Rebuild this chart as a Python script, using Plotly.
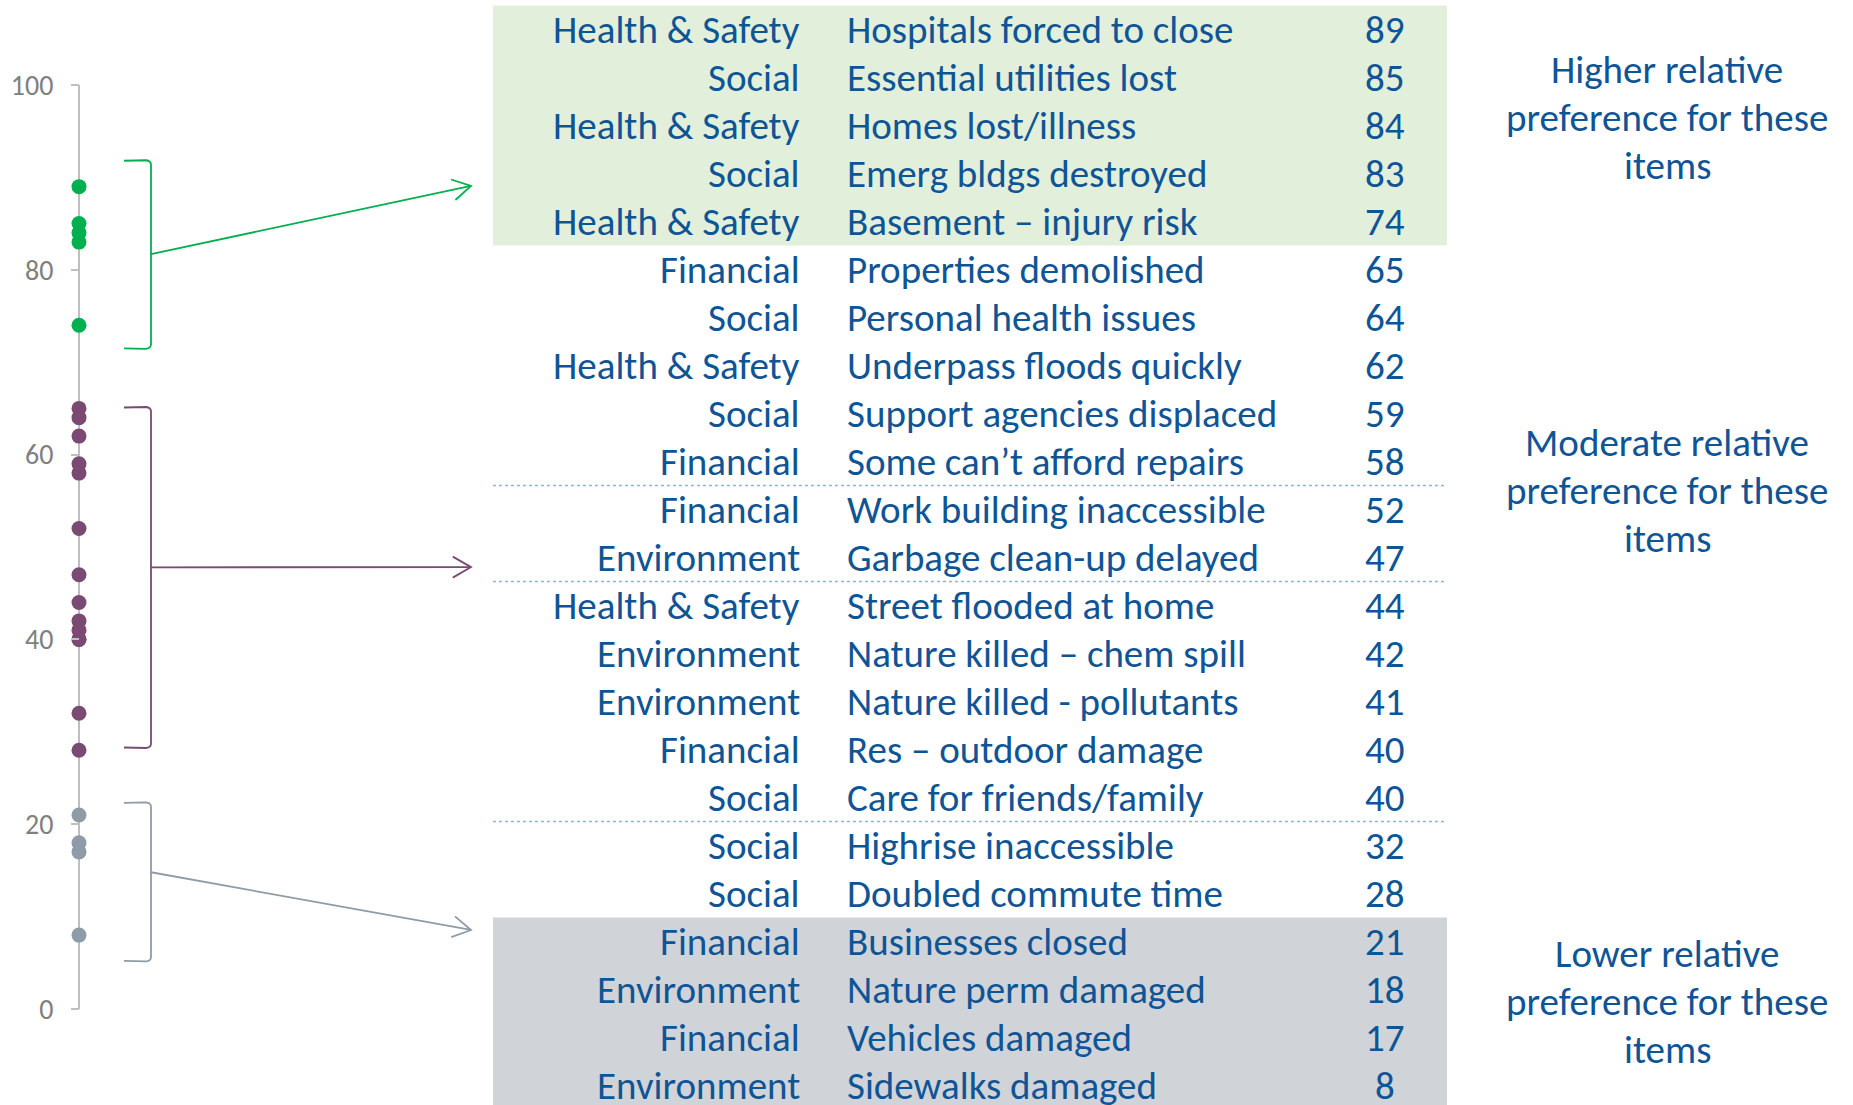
import math
import plotly.graph_objects as go

# ---------------- data ----------------
categories = ["Health & Safety", "Social", "Health & Safety", "Social", "Health & Safety",
              "Financial", "Social", "Health & Safety", "Social", "Financial",
              "Financial", "Environment", "Health & Safety", "Environment", "Environment",
              "Financial", "Social", "Social", "Social", "Financial",
              "Environment", "Financial", "Environment"]
items = ["Hospitals forced to close", "Essential utilities lost", "Homes lost/illness",
         "Emerg bldgs destroyed", "Basement \u2013 injury risk", "Properties demolished",
         "Personal health issues", "Underpass floods quickly", "Support agencies displaced",
         "Some can\u2019t afford repairs", "Work building inaccessible", "Garbage clean-up delayed",
         "Street flooded at home", "Nature killed \u2013 chem spill", "Nature killed - pollutants",
         "Res \u2013 outdoor damage", "Care for friends/family", "Highrise inaccessible",
         "Doubled commute time", "Businesses closed", "Nature perm damaged",
         "Vehicles damaged", "Sidewalks damaged"]
scores = [89, 85, 84, 83, 74, 65, 64, 62, 59, 58, 52, 47, 44, 42, 41, 40, 40, 32, 28, 21, 18, 17, 8]
groups = ["high"] * 5 + ["moderate"] * 14 + ["low"] * 4
group_order = ["high", "moderate", "low"]
group_notes = {
    "high": ["Higher relative", "preference for these", "items"],
    "moderate": ["Moderate relative", "preference for these", "items"],
    "low": ["Lower relative", "preference for these", "items"],
}
divider_after_rows = [9, 11, 16]
tick_vals = [0, 20, 40, 60, 80, 100]

# ---------------- styling / layout constants ----------------
W, H = 1853, 1105
FONT = "Carlito, Calibri, Lato, sans-serif"
TXT = "#0F5596"
group_colors = {"high": "#00B050", "moderate": "#7B4A72", "low": "#8E9CA7"}
group_bg = {"high": "#E2EFDA", "low": "#D0D4D9"}

AX_X = 79
V0_PX, V100_PX = 1009, 85
K = (V0_PX - V100_PX) / 100.0
ROW0_PX, ROW_H = 29.5, 48.0
TABLE_X0, TABLE_X1 = 493, 1447
CAT_X, ITEM_X, VAL_X = 802, 845, 1385
NOTE_X = 1667
BR_X, BR_LEFT = 151, 124
ARROW_END_X = 471
bracket_spans = {"high": (91.8, 71.5), "moderate": (65.1, 28.3), "low": (22.3, 5.2)}
arrow_from_val = {"high": 81.7, "moderate": 47.8, "low": 14.8}
arrow_to_row = {"high": 3.26, "moderate": 11.2, "low": 18.76}
note_center_row = {"high": 1.83, "moderate": 9.6, "low": 20.24}
NOTE_LINE = 48
TABLE_FONT_SIZE = 39
NOTE_FONT_SIZE = 39
TICK_FONT_SIZE = 28


def v2px(v):
    return V0_PX - K * v


def row2px(r):
    return ROW0_PX + ROW_H * r


fig = go.Figure()

# dots along the score axis
fig.add_trace(go.Scatter(
    x=[AX_X] * len(scores), y=scores, mode="markers",
    marker=dict(size=15, color=[group_colors[g] for g in groups], line=dict(width=0)),
    hoverinfo="y", showlegend=False, xaxis="x", yaxis="y"))

shapes = []
# axis line 0..100
shapes.append(dict(type="line", xref="x", yref="y", x0=AX_X, x1=AX_X,
                   y0=min(tick_vals), y1=max(tick_vals), layer="below",
                   line=dict(color="#BFBFBF", width=2)))

# table background bands
for g in ["high", "low"]:
    rows = [i for i, gg in enumerate(groups) if gg == g]
    shapes.append(dict(type="rect", xref="x", yref="y2", x0=TABLE_X0, x1=TABLE_X1,
                       y0=min(rows) - 0.5, y1=max(rows) + 0.5, layer="below",
                       fillcolor=group_bg[g], line=dict(width=0)))
# dotted dividers
for r in divider_after_rows:
    shapes.append(dict(type="line", xref="x", yref="y2", x0=TABLE_X0, x1=TABLE_X1,
                       y0=r + 0.5, y1=r + 0.5, layer="below",
                       line=dict(color="#8FB4D6", width=1.5, dash="dot")))

# brackets + arrows (pixel space on y3)
for g in group_order:
    c = group_colors[g]
    top, bot = v2px(bracket_spans[g][0]), v2px(bracket_spans[g][1])
    path = (f"M {BR_LEFT},{top} L {BR_X-5},{top-0.5} Q {BR_X},{top} {BR_X},{top+4} "
            f"L {BR_X},{bot-4} Q {BR_X},{bot} {BR_X-5},{bot+0.5} L {BR_LEFT},{bot}")
    shapes.append(dict(type="path", xref="x", yref="y3", path=path,
                       line=dict(color=c, width=1.8)))
    sx, sy = BR_X, v2px(arrow_from_val[g])
    ex, ey = ARROW_END_X, row2px(arrow_to_row[g])
    shapes.append(dict(type="line", xref="x", yref="y3", x0=sx, y0=sy, x1=ex, y1=ey,
                       line=dict(color=c, width=1.8)))
    ang = math.atan2(ey - sy, ex - sx)
    L = 21
    pts = []
    for d in (math.radians(30), -math.radians(30)):
        pts.append((ex - L * math.cos(ang + d), ey - L * math.sin(ang + d)))
    apath = f"M {pts[0][0]},{pts[0][1]} L {ex},{ey} L {pts[1][0]},{pts[1][1]}"
    shapes.append(dict(type="path", xref="x", yref="y3", path=apath,
                       line=dict(color=c, width=1.8)))

annotations = []
tf = dict(family=FONT, size=TABLE_FONT_SIZE, color=TXT)
for i, (cat, it, sc) in enumerate(zip(categories, items, scores)):
    annotations.append(dict(x=CAT_X, y=i, xref="x", yref="y2", text=cat, showarrow=False,
                            xanchor="right", yanchor="middle", font=tf))
    annotations.append(dict(x=ITEM_X, y=i, xref="x", yref="y2", text=it, showarrow=False,
                            xanchor="left", yanchor="middle", font=tf))
    annotations.append(dict(x=VAL_X, y=i, xref="x", yref="y2", text=str(sc), showarrow=False,
                            xanchor="center", yanchor="middle", font=tf))

for g in group_order:
    lines = group_notes[g]
    cy = row2px(note_center_row[g])
    n = len(lines)
    for j, ln in enumerate(lines):
        annotations.append(dict(x=NOTE_X, y=cy + (j - (n - 1) / 2) * NOTE_LINE, xref="x", yref="y3",
                                text=ln, showarrow=False, xanchor="center", yanchor="middle",
                                font=dict(family=FONT, size=NOTE_FONT_SIZE, color=TXT)))

fig.update_layout(
    width=W, height=H, autosize=False,
    margin=dict(l=0, r=0, t=0, b=0, pad=0),
    paper_bgcolor="white", plot_bgcolor="white",
    showlegend=False,
    xaxis=dict(range=[0, W], domain=[0, 1], visible=False, fixedrange=True),
    yaxis=dict(range=[-(H - V0_PX) / K, V0_PX / K], domain=[0, 1], anchor="free",
               position=AX_X / W, tickvals=tick_vals, ticks="outside", ticklen=8,
               tickwidth=2, tickcolor="#BFBFBF", showline=False, showgrid=False,
               zeroline=False, ticklabelstandoff=12,
               tickfont=dict(family=FONT, size=TICK_FONT_SIZE, color="#808080"), fixedrange=True),
    yaxis2=dict(overlaying="y", range=[(H - ROW0_PX) / ROW_H, -ROW0_PX / ROW_H],
                visible=False, fixedrange=True),
    yaxis3=dict(overlaying="y", range=[H, 0], visible=False, fixedrange=True),
    shapes=shapes, annotations=annotations,
)

fig.write_html("out.html", config={"displayModeBar": False},
               post_script="document.body.style.margin='0';document.body.style.overflow='hidden';")
